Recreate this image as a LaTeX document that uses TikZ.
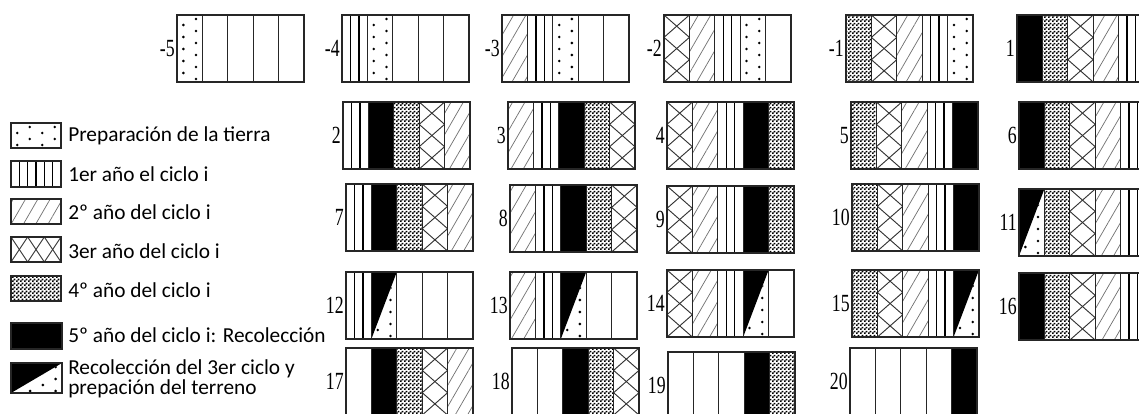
\documentclass[tikz,border=0pt]{standalone}
\usepackage{fontspec}
\setmainfont{Carlito}
\newfontfamily\numfont[FakeStretch=0.72]{Liberation Serif}
\usetikzlibrary{patterns,patterns.meta}

% fill pattern of the 4th year
\pgfdeclarepatternformonly{finecheck}{\pgfpointorigin}{\pgfpoint{3pt}{3pt}}{\pgfpoint{3pt}{3pt}}{%
  \pgfpathrectangle{\pgfpointorigin}{\pgfpoint{1.5pt}{1.5pt}}%
  \pgfpathrectangle{\pgfpoint{1.5pt}{1.5pt}}{\pgfpoint{1.5pt}{1.5pt}}%
  \pgfusepath{fill}}

\tikzset{
  boxline/.style={draw=black!85,line width=.9pt},
  cellline/.style={black!85,line width=.8pt},
  vline/.style={line width=1.1pt},
  xline/.style={black!80,line width=.7pt},
  yearlabel/.style={anchor=east,inner sep=0pt,font=\numfont\fontsize{18.5}{20}\selectfont},
  legendtext/.style={anchor=west,inner sep=0pt,align=left,font=\fontsize{16}{15}\selectfont},
}

\newcommand{\colw}{25.4}
\newcommand{\boxh}{67}

% staggered dots (the caller clips): x y w h
\newcommand{\prepdots}[4]{%
  \pgfmathtruncatemacro{\ncol}{round(#3/12.7)}
  \foreach \dj in {1,...,\ncol}
    \foreach \dr in {0,...,6}
      \fill ({#1+(\dj-0.5)*#3/\ncol},{#2+4+12*\dr+6*mod(\dj,2)}) circle (1.4);}

% crossed lines: x y w h spacing slope
\newcommand{\hatchcell}[6]{%
  \begin{scope}
    \clip (#1,#2) rectangle ++(#3,#4);
    \foreach \k in {-6,...,6}{
      \draw[xline] (#1+\k*#5,#2) -- ++(10*#5,10*#5*#6);
      \draw[xline] (#1+\k*#5,#2) -- ++(-10*#5,10*#5*#6);
    }
  \end{scope}}

% one strip: code x y w h
% 0 empty, 1 preparacion, 2..6 years 1..5, 7 recoleccion + preparacion
\newcommand{\yearcell}[5]{%
  \ifcase#1\relax
  \or \begin{scope}
        \clip (#2,#3) rectangle ++(#4,#5);
        \prepdots{#2}{#3}{#4}{#5}
      \end{scope}
  \or \foreach \f in {1,2} \draw[vline] (#2+\f*#4/3,#3) -- ++(0,#5);
  \or \fill[pattern={Lines[angle=60,distance=8pt,line width=.55pt]},pattern color=black!55] (#2,#3) rectangle ++(#4,#5);
  \or \hatchcell{#2}{#3}{#4}{#5}{#4}{0.88}
  \or \fill[pattern=finecheck] (#2,#3) rectangle ++(#4,#5);
  \or \fill (#2,#3) rectangle ++(#4,#5);
  \or \fill (#2,#3) -- ++(#4,0) -- (#2,#3+#5) -- cycle;
      \begin{scope}
        \clip (#2+#4,#3) -- ++(0,#5) -- (#2,#3+#5) -- cycle;
        \prepdots{#2}{#3}{#4}{#5}
      \end{scope}
  \fi}

% one year of the rotation: name label x y codes
\newcommand{\cyclebox}[5]{%
  \foreach \cc [count=\i from 0] in {#5}{\yearcell{\cc}{#3+\i*\colw}{#4}{\colw}{\boxh}}
  \foreach \i in {1,...,4} \draw[cellline] (#3+\i*\colw,#4) -- ++(0,\boxh);
  \draw[boxline] (#3,#4) rectangle ++(5*\colw,\boxh);
  \node[yearlabel] (lbl#1) at (#3-2,#4+\boxh/2) {#2};}

\begin{document}
\begin{tikzpicture}[x=0.75pt,y=-0.75pt]
\useasboundingbox (0,0) rectangle (1139,414);
\clip (0,0) rectangle (1139,414);

% legend
\yearcell{1}{11}{123}{50}{25}
\draw[boxline] (11,123) rectangle ++(50,25);
\node[legendtext] (legprep) at (68,136) {Preparación de la tierra};
\foreach \f in {1,...,5} \draw[vline] (11+\f*50/6,161) -- ++(0,26);
\draw[boxline] (11,161) rectangle ++(50,26);
\node[legendtext] (legone) at (68,174) {1er año el ciclo i};
\yearcell{3}{11}{199}{50}{25}
\draw[boxline] (11,199) rectangle ++(50,25);
\node[legendtext] (legtwo) at (68,212) {2º año del ciclo i};
\hatchcell{11}{237}{50}{25}{16.67}{1.5}
\draw[boxline] (11,237) rectangle ++(50,25);
\node[legendtext] (legthree) at (68,251) {3er año del ciclo i};
\yearcell{5}{11}{276}{50}{25}
\draw[boxline] (11,276) rectangle ++(50,25);
\node[legendtext] (legfour) at (68,290) {4º año del ciclo i};
\yearcell{6}{11}{323}{51}{26}
\draw[boxline] (11,323) rectangle ++(51,26);
\node[legendtext] (legfive) at (68,335) {5º año del ciclo i: Recolección};
\yearcell{7}{11}{363}{51}{30}
\draw[boxline] (11,363) rectangle ++(51,30);
\node[legendtext] (legharv) at (68,379) {Recolección del 3er ciclo y\\prepación del terreno};

% row 1
\cyclebox{m5}{-5}{177}{15}{1,0,0,0,0}
\cyclebox{m4}{-4}{342}{15}{2,1,0,0,0}
\cyclebox{m3}{-3}{502}{15}{3,2,1,0,0}
\cyclebox{m2}{-2}{664}{15}{4,3,2,1,0}
\cyclebox{m1}{-1}{846}{15}{5,4,3,2,1}
\cyclebox{p1}{1}{1017}{15}{6,5,4,3,2}
% row 2
\cyclebox{p2}{2}{343}{102}{2,6,5,4,3}
\cyclebox{p3}{3}{508}{102}{3,2,6,5,4}
\cyclebox{p4}{4}{667}{102}{4,3,2,6,5}
\cyclebox{p5}{5}{851}{102}{5,4,3,2,6}
\cyclebox{p6}{6}{1019}{102}{6,5,4,3,2}
% row 3
\cyclebox{p7}{7}{346}{184}{2,6,5,4,3}
\cyclebox{p8}{8}{510}{185}{3,2,6,5,4}
\cyclebox{p9}{9}{667}{186}{4,3,2,6,5}
\cyclebox{p10}{10}{852}{184}{5,4,3,2,6}
\cyclebox{p11}{11}{1019}{189}{7,5,4,3,2}
% row 4
\cyclebox{p12}{12}{346}{272}{2,7,0,0,0}
\cyclebox{p13}{13}{510}{272}{3,2,7,0,0}
\cyclebox{p14}{14}{667}{270}{4,3,2,7,0}
\cyclebox{p15}{15}{852}{270}{5,4,3,2,7}
\cyclebox{p16}{16}{1019}{273}{6,5,4,3,2}
% row 5
\cyclebox{p17}{17}{346}{348}{0,6,5,4,3}
\cyclebox{p18}{18}{512}{348}{0,0,6,5,4}
\cyclebox{p19}{19}{668}{352}{0,0,0,6,5}
\cyclebox{p20}{20}{850}{348}{0,0,0,0,6}
\end{tikzpicture}
\end{document}
